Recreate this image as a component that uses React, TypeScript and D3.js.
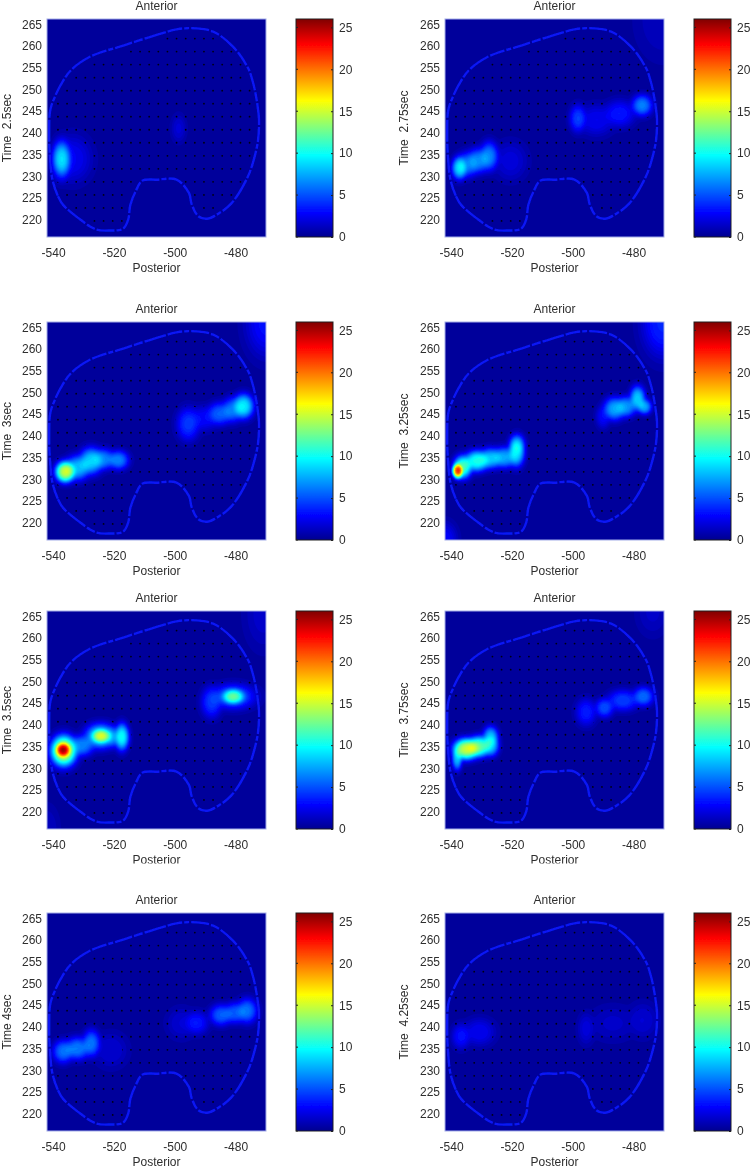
import * as d3 from "d3";
import React, { useEffect, useRef } from "react";

// hotspots: [x, y, spreadX, spreadY, peak]
const spots250 = [
  [-537.2, 233.9, 1.8, 1.9, 8.5],
  [-533.5, 234, 3.6, 2.4, 2.2],
  [-498.7, 241, 1.4, 1.4, 1.5],
];
const spots275 = [
  [-537.2, 231.9, 1.5, 1.2, 8.5],
  [-534.5, 232.7, 2.1, 1.3, 5.5],
  [-531, 233.6, 2.2, 1.3, 6],
  [-527.5, 234.6, 1.8, 1.5, 6],
  [-520.5, 233.5, 3.2, 2, 1.6],
  [-498.3, 243.3, 1.6, 1.4, 4.2],
  [-492.3, 242.9, 3.4, 1.6, 2.2],
  [-484.6, 244.4, 3, 1.4, 3],
  [-477.2, 246.3, 2, 1.1, 6],
  [-470.4, 266, 5, 4, 1],
];
const spots300 = [
  [-536, 231.7, 1.9, 1.1, 14.5],
  [-532, 232.6, 2.4, 1.3, 7.5],
  [-527.5, 234.2, 2.3, 1.4, 8],
  [-523.5, 234.6, 2.3, 1.1, 6],
  [-518.5, 234.4, 2, 1, 6],
  [-495.6, 242.7, 2.2, 1.7, 4],
  [-490.5, 244, 2.8, 1.3, 2.5],
  [-485.2, 245.1, 2.4, 1.2, 5],
  [-481, 246, 2, 1.3, 5.5],
  [-477.4, 246.8, 2, 1.3, 9],
  [-469.8, 266.2, 4, 3.6, 2.8],
];
const spots325 = [
  [-537.8, 231.9, 1, 0.75, 20],
  [-536.2, 232.8, 1.8, 1.2, 11],
  [-531.5, 234.2, 2.4, 1.1, 10],
  [-527, 234.8, 2.2, 1.1, 7.5],
  [-522.5, 235, 2.4, 1.1, 7],
  [-518.5, 236.2, 1.6, 1.5, 8.5],
  [-518.3, 238, 1.5, 1.1, 6],
  [-490, 244.4, 1.4, 1.2, 2.5],
  [-486.3, 246.2, 2.1, 1.2, 7],
  [-482.5, 246.7, 2, 1.1, 6.5],
  [-478.7, 248.6, 1.5, 1.3, 8],
  [-476.4, 246.7, 1.4, 0.8, 7],
  [-470.4, 266.2, 4, 3.6, 3.5],
  [-542, 216, 2.3, 1.8, 2.5],
];
const spots350 = [
  [-536.7, 234.2, 1.4, 0.75, 20],
  [-536.5, 234, 2.5, 1.6, 15],
  [-530.6, 235.2, 2.4, 1.1, 6],
  [-524.2, 237.4, 1.9, 0.75, 12.5],
  [-524.4, 237.4, 3, 1.3, 8.5],
  [-520.5, 237.2, 1.4, 1.1, 5],
  [-517.4, 237.2, 1.4, 1.4, 9.5],
  [-480.8, 246.5, 2.2, 0.8, 11],
  [-480.8, 246.5, 4.2, 1.3, 5],
  [-487.9, 245.2, 2, 1.6, 4],
  [-470.9, 265.5, 3.5, 3.6, 1.2],
  [-542, 216, 2.3, 2.4, 1],
];
const spots375 = [
  [-535, 234.4, 2.5, 1.1, 14.5],
  [-538, 232.2, 1, 1.2, 7.5],
  [-530.7, 235, 2.3, 1.1, 11.5],
  [-527, 237.2, 1.5, 1.1, 7.5],
  [-526.8, 235.2, 1.5, 1.1, 7.5],
  [-495.6, 242.9, 2, 1.4, 3.2],
  [-489.6, 243.9, 1.8, 1, 4.6],
  [-483.5, 245.6, 3, 1.1, 4.2],
  [-476.8, 246.5, 2, 1, 5.4],
  [-473.7, 266, 3, 2.4, 1.1],
];
const spots400 = [
  [-536.7, 234.3, 2, 1.2, 5.5],
  [-532, 235, 2.4, 1.2, 5.8],
  [-527.4, 236.2, 1.7, 1.4, 5.6],
  [-521, 234.6, 3.2, 1.8, 1.4],
  [-497.8, 240.8, 2.8, 1.6, 1.4],
  [-492.8, 240.9, 2.3, 1.2, 3],
  [-484.8, 242.7, 2.2, 1.1, 5],
  [-480.2, 243.2, 2.2, 1.1, 4.8],
  [-476.2, 243.7, 2, 1.3, 5.5],
];
const spots425 = [
  [-536.7, 237.8, 1.8, 1.3, 2.8],
  [-530.7, 238.8, 3, 1.4, 2.2],
  [-495.6, 239.6, 1.6, 1.6, 1.6],
  [-486.8, 240.8, 4.4, 1.8, 1.1],
  [-477, 241.5, 2.8, 1.8, 1.4],
];

const timeLabels = [
  "Time  2.5sec",
  "Time  2.75sec",
  "Time  3sec",
  "Time  3.25sec",
  "Time  3.5sec",
  "Time  3.75sec",
  "Time 4sec",
  "Time  4.25sec",
];
const panelSpots = [spots250, spots275, spots300, spots325, spots350, spots375, spots400, spots425];

const outlineX = [
  -540.2, -538.4, -536.7, -531.8, -525.7, -521.4, -517, -515.3, -514.6, -512.6, -510.6, -506,
  -499.4, -495.3, -494.5, -492.3, -489.5, -486.3, -481.3, -475.9, -473.7, -472.6, -472.3, -472.9,
  -474.2, -475.9, -480.8, -487.4, -494.5, -499.4, -504.3, -516.4, -527.9, -534, -537.2, -539.4,
  -540.9, -541.3, -541.1,
];
const outlineY = [
  229.2, 225.4, 223.4, 220.4, 217.7, 217.5, 217.9, 220, 223.4, 226.9, 229, 229.2,
  229.2, 226.1, 223.7, 220.8, 220.2, 221.1, 223.8, 230, 234.6, 238.4, 243, 246.8,
  251.4, 254.9, 259.8, 263.3, 264.1, 263.8, 262.9, 260.2, 257.5, 254.5, 251.4, 248.3,
  245.3, 239.9, 235.4,
];

const xTicks = [-540, -520, -500, -480];
const yTicks = [220, 225, 230, 235, 240, 245, 250, 255, 260, 265];
const barTicks = [0, 5, 10, 15, 20, 25];

// MATLAB jet
const jetStops = [0, 0.11, 0.375, 0.625, 0.885, 1];
const jetColors = ["#00008f", "#0000ff", "#00ffff", "#ffff00", "#ff0000", "#800000"];

const maxValue = 26;
const baseValue = 0.3;
const xDomain = [-542, -470];
const yDomain = [216, 266.2];

const panelW = 219;
const panelH = 218;
const colLeft = [47, 445];
const rowTop = [19, 322, 611, 913];
const barGap = 249;
const barW = 37;
const fontFamily = "'Liberation Sans', Arial, sans-serif";
const textColor = "#2e2e2e";

const jet = d3
  .scaleLinear<string>()
  .domain(jetStops.map((d) => d * maxValue))
  .range(jetColors)
  .clamp(true);

const App = () => {
  const ref = useRef<SVGSVGElement>(null);

  useEffect(() => {
    const svg = d3.select(ref.current);
    svg.selectAll("*").remove();

    const defs = svg.append("defs");
    defs
      .append("filter")
      .attr("id", "soft")
      .attr("filterUnits", "userSpaceOnUse")
      .attr("x", 0)
      .attr("y", 0)
      .attr("width", 750)
      .attr("height", 1167)
      .append("feGaussianBlur")
      .attr("stdDeviation", 0.5);

    const grad = defs
      .append("linearGradient")
      .attr("id", "jet")
      .attr("x1", 0)
      .attr("y1", 1)
      .attr("x2", 0)
      .attr("y2", 0);
    jetStops.forEach((s, i) => {
      grad.append("stop").attr("offset", s).attr("stop-color", jetColors[i]);
    });

    // clip for the lower labels of the third row, cut off in the source
    defs
      .append("clipPath")
      .attr("id", "cut")
      .attr("clipPathUnits", "userSpaceOnUse")
      .append("rect")
      .attr("x", -50)
      .attr("y", panelH)
      .attr("width", panelW + 100)
      .attr("height", 34.5);
    defs
      .append("clipPath")
      .attr("id", "plot")
      .append("rect")
      .attr("width", panelW)
      .attr("height", panelH);

    const root = svg.append("g").attr("filter", "url(#soft)");
    root.append("rect").attr("width", 750).attr("height", 1167).attr("fill", "white");

    const outline = outlineX.map((x, i) => [x, outlineY[i]] as [number, number]);
    const inset = 1.3;
    const inside = (x: number, y: number) =>
      [[0, 0], [inset, 0], [-inset, 0], [0, inset], [0, -inset]].every(([dx, dy]) =>
        d3.polygonContains(outline, [x + dx, y + dy])
      );
    const dotCols = d3.range(-541.4, -470, 3);
    const dotRows = d3.range(219.7, 262, 3);
    const dots = dotRows.flatMap((y) =>
      dotCols.filter((x) => inside(x, y)).map((x) => [x, y])
    );

    // 0.5 unit field grid for the contours
    const step = 0.5;
    const nx = Math.round((xDomain[1] - xDomain[0]) / step) + 2;
    const ny = Math.round((yDomain[1] - yDomain[0]) / step) + 2;
    const levelStep = 0.4;
    const levels = d3.range(0.5, maxValue, levelStep);

    timeLabels.forEach((label, i) => {
      const left = colLeft[i % 2];
      const top = rowTop[Math.floor(i / 2)];
      const g = root.append("g").attr("transform", `translate(${left},${top})`);
      const x = d3.scaleLinear().domain(xDomain).range([0, panelW]);
      const y = d3.scaleLinear().domain(yDomain).range([panelH, 0]);

      const spots = panelSpots[i];
      const values = new Float64Array(nx * ny);
      for (let r = 0; r < ny; r++) {
        for (let c = 0; c < nx; c++) {
          const px = xDomain[0] + c * step;
          const py = yDomain[0] + r * step;
          let sum = 0;
          for (const [sx, sy, wx, wy, peak] of spots) {
            // flat topped kernel, the spots in the source have sharp shoulders
            const e = ((px - sx) / (wx * 1.2)) ** 2 / 2 + ((py - sy) / (wy * 1.55)) ** 2 / 2;
            sum += (peak * Math.exp(-(e ** 1.4))) ** 2;
          }
          values[r * nx + c] = baseValue + Math.sqrt(sum);
        }
      }

      const path = d3.geoPath(
        d3.geoTransform({
          point(gx, gy) {
            this.stream.point(
              x(xDomain[0] + (gx - 0.5) * step),
              y(yDomain[0] + (gy - 0.5) * step)
            );
          },
        })
      );
      const contours = d3.contours().size([nx, ny]).smooth(true).thresholds(levels)(values as any);

      const plot = g.append("g").attr("clip-path", "url(#plot)");
      plot.append("rect").attr("width", panelW).attr("height", panelH).attr("fill", jet(baseValue));

      const drawLevels = (from: number, to: number) =>
        plot
          .append("g")
          .selectAll("path")
          .data(contours.filter((c) => c.value >= from && c.value < to))
          .join("path")
          .attr("d", (c) => path(c))
          .attr("fill", (c) => jet(c.value + levelStep / 2));

      drawLevels(0, 1.1);

      plot
        .append("g")
        .selectAll("circle")
        .data(dots)
        .join("circle")
        .attr("cx", (d) => x(d[0]))
        .attr("cy", (d) => y(d[1]))
        .attr("r", 0.9)
        .attr("fill", "#000010");

      drawLevels(1.1, 2.5);

      const line = d3
        .line<[number, number]>()
        .x((d) => x(d[0]))
        .y((d) => y(d[1]))
        .curve(d3.curveCatmullRomClosed.alpha(0.5));
      plot
        .append("path")
        .attr("d", line(outline))
        .attr("fill", "none")
        .attr("stroke", "#0818f4")
        .attr("stroke-width", 2.4)
        .attr("stroke-dasharray", "15 2 22 2 9 2 18 2 5 2");

      drawLevels(2.5, 100);

      g.append("rect")
        .attr("width", panelW)
        .attr("height", panelH)
        .attr("fill", "none")
        .attr("stroke", "#a3ade8");

      const styleText = (sel: any) => {
        sel.select(".domain").remove();
        sel.selectAll("line").remove();
        sel
          .selectAll("text")
          .attr("fill", textColor)
          .style("font-family", fontFamily)
          .style("font-size", "12px");
      };

      g.append("g")
        .attr("transform", `translate(0,${panelH})`)
        .call(d3.axisBottom(x).tickValues(xTicks).tickSize(0).tickPadding(11).tickFormat((d) => String(d)))
        .call(styleText);
      g.append("g")
        .call(d3.axisLeft(y).tickValues(yTicks).tickSize(0).tickPadding(5).tickFormat((d) => String(d)))
        .call(styleText);

      const labelStyle = (sel: any) =>
        sel
          .attr("fill", textColor)
          .attr("text-anchor", "middle")
          .style("font-family", fontFamily)
          .style("font-size", "12px")
          .style("white-space", "pre");

      g.append("text")
        .attr("x", panelW / 2)
        .attr("y", -9)
        .text("Anterior")
        .call(labelStyle);
      g.append("text")
        .attr("x", panelW / 2)
        .attr("y", panelH + (i >= 6 ? 34.5 : 35))
        .attr("clip-path", i === 4 || i === 5 ? "url(#cut)" : null)
        .text("Posterior")
        .call(labelStyle);
      g.append("text")
        .attr("transform", `translate(${i % 2 === 0 ? -36 : -37},${panelH / 2}) rotate(-90)`)
        .text(label)
        .call(labelStyle);

      // colorbar
      const bar = g.append("g").attr("transform", `translate(${barGap},0)`);
      const barScale = d3.scaleLinear().domain([0, maxValue]).range([panelH, 0]);
      bar
        .append("rect")
        .attr("width", barW)
        .attr("height", panelH)
        .attr("fill", "url(#jet)")
        .attr("stroke", "#222");
      bar
        .selectAll("line.inner")
        .data(barTicks)
        .join("line")
        .attr("class", "inner")
        .attr("x1", 0)
        .attr("x2", 2)
        .attr("y1", (d) => barScale(d))
        .attr("y2", (d) => barScale(d))
        .attr("stroke", "#222");
      bar
        .append("g")
        .attr("transform", `translate(${barW},0)`)
        .call(d3.axisRight(barScale).tickValues(barTicks).tickSize(-2).tickPadding(6).tickFormat((d) => String(d)))
        .call((sel: any) => {
          sel.select(".domain").remove();
          sel.selectAll("line").attr("stroke", "#222");
          sel
            .selectAll("text")
            .attr("fill", textColor)
            .style("font-family", fontFamily)
            .style("font-size", "12px");
        });
    });
  }, []);

  return (
    <svg
      ref={ref}
      width={750}
      height={1167}
      style={{ position: "absolute", left: 0, top: 0, display: "block" }}
    />
  );
};

export default App;
